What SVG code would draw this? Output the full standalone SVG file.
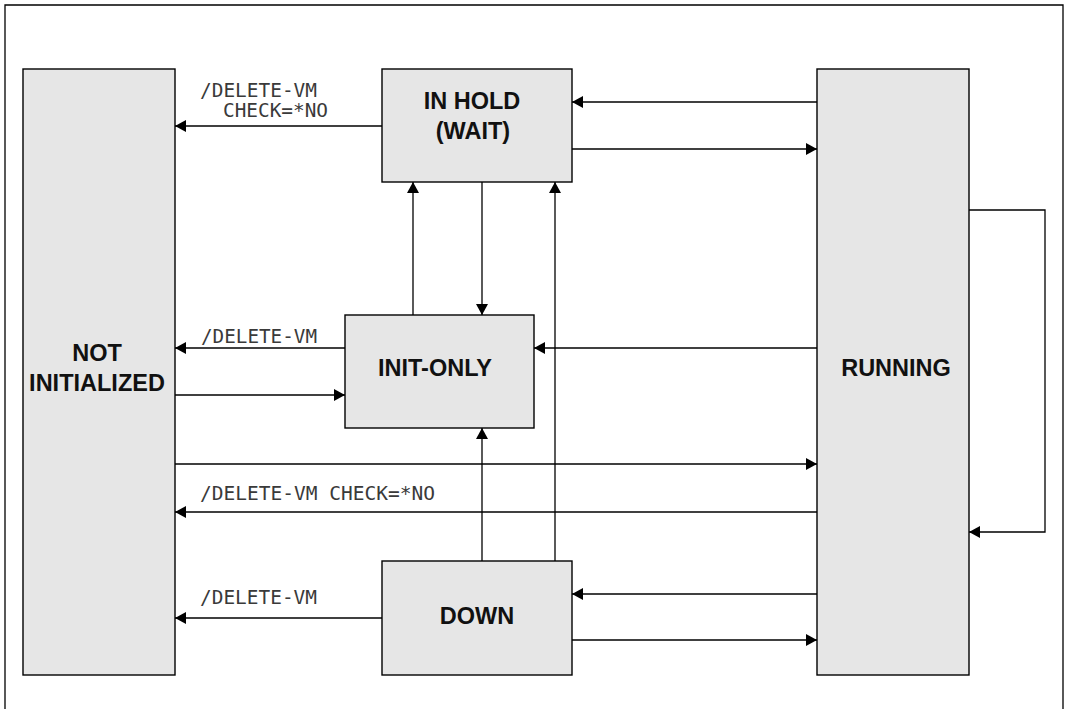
<svg xmlns="http://www.w3.org/2000/svg" width="1068" height="709" viewBox="0 0 1068 709">
<style>
.box{fill:#e6e6e6;stroke:#000;stroke-width:1.4}
.nt{font-family:"Liberation Sans",Arial,sans-serif;font-weight:bold;font-size:23.5px;fill:#111;text-anchor:middle}
.lb{font-family:"DejaVu Sans Mono","Liberation Mono",monospace;font-size:19px;fill:#3a3a3a}
.cn{fill:none;stroke:#000;stroke-width:1.3}
</style>
<defs>
<marker id="ah" markerUnits="userSpaceOnUse" markerWidth="12" markerHeight="12" refX="11" refY="6" orient="auto">
<path d="M0,0 L11,6 L0,12 z" fill="#000"/>
</marker>
</defs>
<rect width="1068" height="709" fill="#fff"/>
<path d="M5,709 V5 H1063 V709" fill="none" stroke="#000" stroke-width="1.3"/>
<g id="not-initialized">
<rect class="box" x="23" y="69" width="152" height="606"/>
<text class="nt" x="97" y="361">NOT</text>
<text class="nt" x="97" y="391">INITIALIZED</text>
</g>
<g id="in-hold">
<rect class="box" x="382" y="69" width="190" height="113"/>
<text class="nt" x="472" y="109">IN HOLD</text>
<text class="nt" x="473" y="139">(WAIT)</text>
</g>
<g id="init-only">
<rect class="box" x="345" y="315" width="189" height="113"/>
<text class="nt" x="435" y="376">INIT-ONLY</text>
</g>
<g id="down">
<rect class="box" x="382" y="561" width="190" height="114"/>
<text class="nt" x="477" y="624">DOWN</text>
</g>
<g id="running">
<rect class="box" x="817" y="69" width="152" height="606"/>
<text class="nt" x="896" y="376">RUNNING</text>
</g>
<g id="connectors">
<path class="cn" marker-end="url(#ah)" d="M382,126 H175"/>
<path class="cn" marker-end="url(#ah)" d="M817,102 H572"/>
<path class="cn" marker-end="url(#ah)" d="M572,149 H817"/>
<path class="cn" marker-end="url(#ah)" d="M413,315 V182"/>
<path class="cn" marker-end="url(#ah)" d="M482,182 V315"/>
<path class="cn" marker-end="url(#ah)" d="M482,561 V428"/>
<path class="cn" marker-end="url(#ah)" d="M555,561 V182"/>
<path class="cn" marker-end="url(#ah)" d="M345,348 H175"/>
<path class="cn" marker-end="url(#ah)" d="M175,395 H345"/>
<path class="cn" marker-end="url(#ah)" d="M817,348 H534"/>
<path class="cn" marker-end="url(#ah)" d="M175,464 H817"/>
<path class="cn" marker-end="url(#ah)" d="M817,512 H175"/>
<path class="cn" marker-end="url(#ah)" d="M969,210 H1045 V532 H969"/>
<path class="cn" marker-end="url(#ah)" d="M817,594 H572"/>
<path class="cn" marker-end="url(#ah)" d="M572,640 H817"/>
<path class="cn" marker-end="url(#ah)" d="M382,618 H175"/>
</g>
<g id="labels">
<text class="lb" x="200" y="97" textLength="117" lengthAdjust="spacingAndGlyphs">/DELETE-VM</text>
<text class="lb" x="223" y="117" textLength="105" lengthAdjust="spacingAndGlyphs">CHECK=*NO</text>
<text class="lb" x="201" y="343" textLength="116" lengthAdjust="spacingAndGlyphs">/DELETE-VM</text>
<text class="lb" x="200" y="500" textLength="235" lengthAdjust="spacingAndGlyphs">/DELETE-VM CHECK=*NO</text>
<text class="lb" x="200" y="604" textLength="117" lengthAdjust="spacingAndGlyphs">/DELETE-VM</text>
</g>
</svg>
